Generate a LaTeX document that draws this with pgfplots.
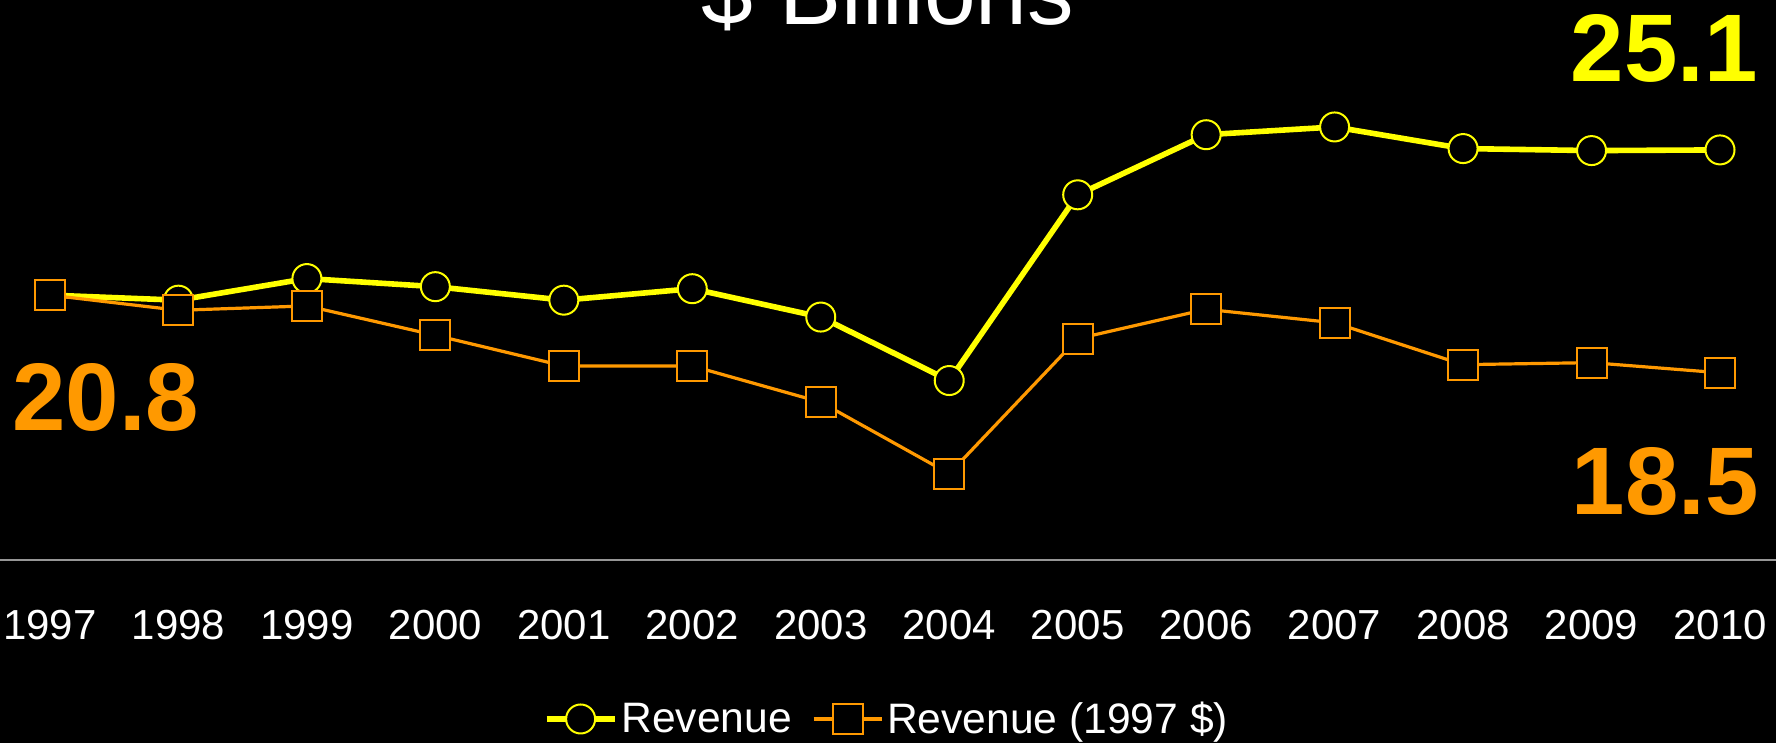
\documentclass[border=0pt]{standalone}
\usepackage{fontspec}
\setmainfont{Liberation Sans}
\usepackage{pgfplots}
\usepackage{pgfplotstable}
\pgfplotsset{compat=1.18}
\definecolor{revyellow}{RGB}{255,255,0}
\definecolor{revorange}{RGB}{255,153,0}
\definecolor{axisgray}{RGB}{150,150,150}

\pgfplotstableread{
x nominal real
0 20.8 20.8
1 20.65 20.35
2 21.29 20.48
3 21.05 19.61
4 20.65 18.70
5 20.99 18.70
6 20.15 17.63
7 18.27 15.51
8 23.77 19.51
9 25.55 20.38
10 25.78 19.98
11 25.14 18.74
12 25.08 18.80
13 25.1 18.5
}\revdata

\begin{document}
\begin{tikzpicture}
\useasboundingbox (0,-91.5pt) rectangle (888pt,280pt);
\fill[black] (0,-91.5pt) rectangle (888pt,280pt);
\begin{axis}[
  at={(0pt,0pt)}, anchor=south west,
  scale only axis, width=888pt, height=280pt,
  xmin=-0.389, xmax=13.436, ymin=12.955, ymax=29.54,
  clip=false,
  axis y line=none,
  axis x line*=bottom,
  x axis line style={axisgray, line width=1pt, -},
  xtick={0,...,13},
  xticklabels={1997,1998,1999,2000,2001,2002,2003,2004,2005,2006,2007,2008,2009,2010},
  major tick length=0pt,
  ytick=\empty,
  xticklabel style={font=\fontsize{21}{25}\selectfont, text=white, anchor=base, yshift=-39.5pt},
  legend style={at={(rel axis cs:0.5,-0.2839)}, anchor=center, draw=none, fill=none,
    text=white, font=\fontsize{21.3}{25}\selectfont,
    /tikz/every even column/.append style={column sep=8pt}},
  legend columns=-1,
  legend image code/.code={\draw[mark repeat=2,mark phase=2] plot coordinates {(0pt,0pt)(17pt,0pt)(34pt,0pt)};},
]
\addplot[revyellow, line width=2.8pt, mark=*, mark size=7.25pt,
  mark options={fill=black, draw=revyellow, line width=1pt, solid}] table[x=x, y=nominal] {\revdata};
\addlegendentry{Revenue}
\addplot[revorange, line width=1.6pt, mark=square*, mark size=7.5pt,
  mark options={fill=black, draw=revorange, line width=1pt, solid}] table[x=x, y=real] {\revdata};
\addlegendentry{Revenue (1997 \$)}
\end{axis}
\node[anchor=base west, inner sep=0pt, text=revorange, font=\fontsize{48}{56}\selectfont\bfseries] at (6pt,64.5pt) {20.8};
\node[anchor=base east, inner sep=0pt, text=revyellow, font=\fontsize{48}{56}\selectfont\bfseries] at (879pt,239.15pt) {25.1};
\node[anchor=base east, inner sep=0pt, text=revorange, font=\fontsize{48}{56}\selectfont\bfseries] at (879.5pt,22.5pt) {18.5};
\node[anchor=base, inner sep=0pt, text=white, font=\fontsize{46.5}{54}\selectfont] at (444pt,267.5pt) {\$ Billions};
\end{tikzpicture}
\end{document}
